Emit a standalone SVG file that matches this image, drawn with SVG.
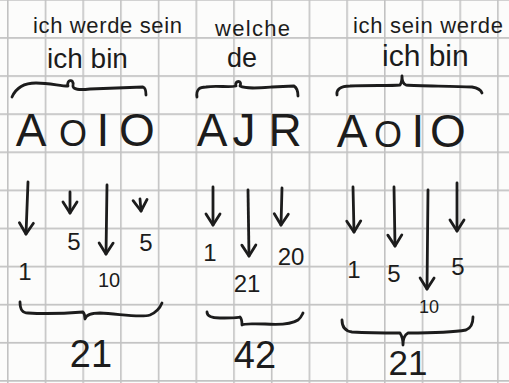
<svg xmlns="http://www.w3.org/2000/svg" width="509" height="383" viewBox="0 0 509 383">
<defs>
<pattern id="grid" patternUnits="userSpaceOnUse" x="7" y="-1" width="37.7" height="38.1">
<path d="M0.8,0 V38.1 M0,0.8 H37.7" stroke="#c2c2c2" stroke-width="1.6" fill="none"/>
</pattern>
<marker id="head" viewBox="-12 -9 14 18" refX="0" refY="0" markerWidth="14" markerHeight="18" markerUnits="userSpaceOnUse" orient="auto" overflow="visible">
<path d="M-11,-7 L0,0 L-11,7" fill="none" stroke="#1c1c1c" stroke-width="2.8" stroke-linecap="round" stroke-linejoin="round"/>
</marker>
<style>
.ink{fill:#1c1c1c;font-family:"Liberation Sans","DejaVu Sans",sans-serif}
.lbl{font-size:22px}
.big{font-size:46px}
.num{font-size:24px;text-anchor:middle}
.sum{font-size:38px;text-anchor:middle}
.arr{stroke:#1c1c1c;stroke-width:2.8;fill:none;stroke-linecap:round;marker-end:url(#head)}
.brace{stroke:#1c1c1c;stroke-width:2.8;fill:none;stroke-linecap:round;stroke-linejoin:round}
</style>
</defs>
<rect width="509" height="383" fill="#fcfcfb"/>
<rect width="509" height="383" fill="url(#grid)"/>

<g id="col1-label">
<text class="ink lbl" x="33" y="33" textLength="149" lengthAdjust="spacing">ich werde sein</text>
<text class="ink lbl" x="47" y="68" style="font-size:28px">ich bin</text>
</g>
<g id="col2-label">
<text class="ink lbl" x="215" y="36" textLength="75" lengthAdjust="spacing">welche</text>
<text class="ink lbl" x="227" y="67" style="font-size:27px">de</text>
</g>
<g id="col3-label">
<text class="ink lbl" x="353" y="33" textLength="150" lengthAdjust="spacing">ich sein werde</text>
<text class="ink lbl" x="382" y="66" style="font-size:30px">ich bin</text>
</g>

<g id="braces-top">
<path class="brace" d="M12,97 C16,88 24,83 36,83 C50,83 60,86 68,86 C66,80 74,78 73,85 C72,90 80,90 90,89 L143,87 C146,88 146,92 146,95"/>
<path class="brace" d="M197,97 C196,90 199,87 206,87 C218,85 228,88 236,86 C234,80 243,80 240,86 C246,89 258,88 272,87 L294,86 C297,88 298,92 298,96"/>
<path class="brace" d="M337,95 C336,90 340,86 350,86 C370,85 390,86 400,85 C402,82 402,79 402,76 C402,80 403,84 406,85 C420,86 450,86 472,87 C478,88 481,90 482,93"/>
</g>

<g id="col1-word">
<text class="ink big" y="146"><tspan x="31" text-anchor="middle">A</tspan><tspan x="73" text-anchor="middle" style="font-size:36px">O</tspan><tspan x="103" text-anchor="middle">I</tspan><tspan x="137" text-anchor="middle">O</tspan></text>
</g>
<g id="col2-word">
<text class="ink big" y="146"><tspan x="212" text-anchor="middle">A</tspan><tspan x="244" text-anchor="middle">J</tspan><tspan x="285" text-anchor="middle">R</tspan></text>
</g>
<g id="col3-word">
<text class="ink big" y="147"><tspan x="352" text-anchor="middle">A</tspan><tspan x="388" text-anchor="middle" style="font-size:36px">O</tspan><tspan x="418" text-anchor="middle">I</tspan><tspan x="448" text-anchor="middle">O</tspan></text>
</g>

<g id="connectors">
<path class="arr" d="M28,182 L26,234"/>
<path class="arr" d="M70,192 L70,213"/>
<path class="arr" d="M107,185 L106,254"/>
<path class="arr" d="M140,199 L141,211"/>
<path class="arr" d="M213,187 L213,225"/>
<path class="arr" d="M248,190 L249,256"/>
<path class="arr" d="M282,188 L281,225"/>
<path class="arr" d="M353,187 L354,232"/>
<path class="arr" d="M394,187 L395,246"/>
<path class="arr" d="M428,190 L427,289"/>
<path class="arr" d="M457,183 L457,231"/>
</g>

<g id="col1-values">
<text class="ink num" x="74" y="250">5</text>
<text class="ink num" x="146" y="251">5</text>
<text class="ink num" x="25" y="280">1</text>
<text class="ink num" x="109" y="287" style="font-size:20px">10</text>
</g>
<g id="col2-values">
<text class="ink num" x="210" y="261">1</text>
<text class="ink num" x="291" y="265">20</text>
<text class="ink num" x="247" y="292">21</text>
</g>
<g id="col3-values">
<text class="ink num" x="354" y="278">1</text>
<text class="ink num" x="394" y="282">5</text>
<text class="ink num" x="458" y="275">5</text>
<text class="ink num" x="429" y="313" style="font-size:18px">10</text>
</g>

<g id="braces-bottom">
<path class="brace" d="M20,302 C20,308 21,313 28,313 C45,314 70,313 83,312 C85,314 85,316 85,319 C86,315 90,313 100,313 C120,314 140,318 150,315 C157,312 160,308 162,303"/>
<path class="brace" d="M207,312 C207,316 210,318 220,318 C230,318 238,318 240,317 C242,319 242,322 242,325 C244,323 252,324 265,324 C280,325 292,324 298,320 C301,318 302,315 303,313"/>
<path class="brace" d="M342,320 C342,326 344,331 352,332 C370,333 390,333 400,333 C402,336 403,340 403,345 C403,340 404,335 408,333 C430,333 455,332 466,330 C471,328 473,324 473,317"/>
</g>

<g id="col1-sum"><text class="ink sum" x="91" y="367">21</text></g>
<g id="col2-sum"><text class="ink sum" x="255" y="368">42</text></g>
<g id="col3-sum"><text class="ink sum" x="408" y="375" style="font-size:35px">21</text></g>
</svg>
